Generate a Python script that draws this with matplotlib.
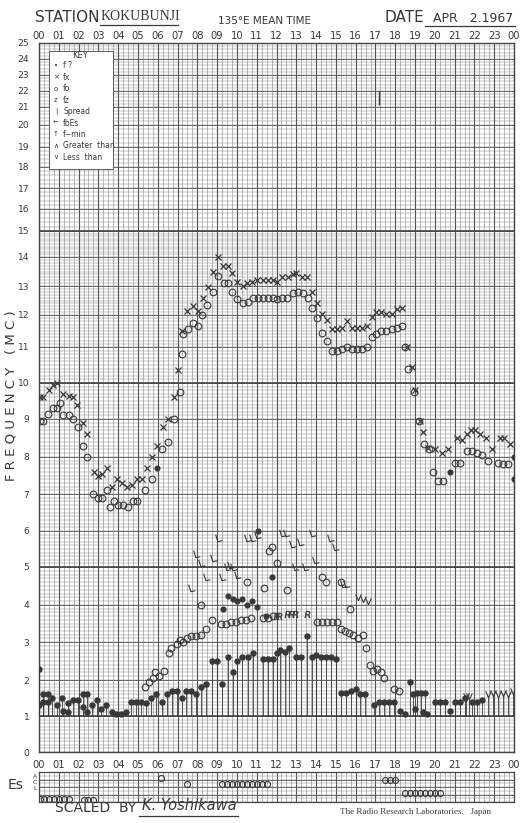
import numpy as np
import matplotlib
matplotlib.use("Agg")
import matplotlib.pyplot as plt
from matplotlib.path import Path
from matplotlib.lines import Line2D
from matplotlib.patches import Rectangle

# ---- F-layer readings (hour, MC) ----
FX_HOURS = [0.05, 0.2, 0.5, 0.7, 0.9, 1.2, 1.5, 1.7, 1.9, 2.2, 2.4, 2.8, 3.0, 3.2, 3.45, 3.7, 3.95,
            4.2, 4.45, 4.7, 4.95, 5.2, 5.45, 5.7, 5.95, 6.25, 6.5, 6.8, 7.0, 7.25, 7.5, 7.8, 8.05,
            8.3, 8.55, 8.8, 9.05, 9.3, 9.55, 9.75, 10.0, 10.3, 10.5, 10.75, 11.0, 11.3, 11.55, 11.8,
            12.05, 12.3, 12.6, 12.85, 13.0, 13.3, 13.55, 13.8, 14.05, 14.3, 14.55, 14.8, 15.05,
            15.3, 15.55, 15.8, 16.05, 16.3, 16.55, 16.8, 17.05, 17.3, 17.55, 17.85, 18.1, 18.35,
            18.6, 18.85, 19.0, 19.25, 19.4, 19.65, 20.0, 20.35, 20.65, 21.1, 21.35, 21.6, 21.85,
            22.05, 22.3, 22.6, 22.9, 23.3, 23.5, 23.8]
FX_MC = [9.6, 9.6, 9.8, 9.95, 10.0, 9.7, 9.65, 9.6, 9.4, 8.9, 8.6, 7.6, 7.5, 7.55, 7.7, 7.2, 7.4,
         7.3, 7.2, 7.25, 7.4, 7.4, 7.7, 8.0, 8.3, 8.8, 9.0, 9.6, 10.35, 11.5, 12.15, 12.3, 12.15,
         12.6, 12.95, 13.5, 14.0, 13.7, 13.7, 13.45, 13.15, 13.0, 13.1, 13.15, 13.2, 13.2, 13.2, 13.2,
         13.15, 13.3, 13.3, 13.4, 13.45, 13.3, 13.3, 12.8, 12.4, 12.05, 11.85, 11.55, 11.55,
         11.6, 11.8, 11.6, 11.6, 11.6, 11.65, 11.95, 12.1, 12.1, 12.05, 12.05, 12.2, 12.25,
         11.0, 10.45, 9.8, 8.95, 8.65, 8.25, 8.2, 8.1, 8.2, 8.5, 8.45, 8.6, 8.7,
         8.7, 8.6, 8.5, 8.2, 8.5, 8.5, 8.35]

FO_HOURS = [0.05, 0.2, 0.45, 0.7, 0.9, 1.05, 1.2, 1.5, 1.7, 1.95, 2.2, 2.45, 2.75, 3.0, 3.2, 3.45,
            3.6, 3.8, 4.0, 4.25, 4.5, 4.75, 4.95, 5.35, 5.7, 6.2, 6.5, 6.8, 7.1, 7.25, 7.3, 7.55,
            7.8, 8.05, 8.25, 8.5, 8.8, 9.05, 9.35, 9.55, 9.75, 10.0, 10.3, 10.55, 10.8, 11.05, 11.3,
            11.55, 11.8, 12.05, 12.3, 12.55, 12.85, 13.1, 13.35, 13.6, 13.8, 14.05, 14.3, 14.55,
            14.8, 15.05, 15.3, 15.55, 15.8, 16.05, 16.3, 16.55, 16.8, 17.05, 17.3, 17.55, 17.85,
            18.1, 18.35, 18.5, 18.65, 18.95, 19.2, 19.45, 19.7, 19.9, 20.15, 20.4, 21.0, 21.25,
            21.65, 21.9, 22.15, 22.4, 22.7, 23.2, 23.45, 23.7]
FO_MC = [8.95, 8.95, 9.15, 9.3, 9.3, 9.45, 9.1, 9.1, 9.0, 8.8, 8.3, 8.0, 7.0, 6.9, 6.9, 7.1,
         6.65, 6.8, 6.7, 6.7, 6.65, 6.8, 6.8, 7.1, 7.4, 8.2, 8.4, 9.0, 9.75, 10.8, 11.4, 11.55,
         11.75, 11.65, 12.0, 12.35, 12.8, 13.35, 13.1, 13.1, 12.8, 12.55, 12.4, 12.45, 12.6, 12.6, 12.6,
         12.6, 12.6, 12.55, 12.6, 12.6, 12.75, 12.8, 12.75, 12.6, 12.25, 11.9, 11.45, 11.2,
         10.9, 10.9, 10.95, 11.0, 10.95, 10.95, 10.95, 11.0, 11.3, 11.4, 11.5, 11.5, 11.55,
         11.6, 11.65, 11.0, 10.4, 9.75, 8.95, 8.35, 8.2, 7.6, 7.35, 7.35, 7.85, 7.85,
         8.15, 8.15, 8.1, 8.05, 7.9, 7.85, 7.8, 7.8]

# ---- F1 / E region ----
F1_O_HOURS = [8.2, 10.5, 11.35, 11.6, 11.75, 12.0, 12.55, 14.3, 14.5, 15.25, 15.7]
F1_O_MC = [4.0, 4.6, 4.45, 5.45, 5.55, 5.1, 4.4, 4.75, 4.6, 4.6, 3.9]

E_O_HOURS = [5.35, 5.55, 5.75, 5.85, 6.05, 6.3, 6.55, 6.65, 6.95, 7.1, 7.3, 7.5, 7.7, 7.95, 8.2,
             8.45, 8.75, 9.2, 9.45, 9.7, 9.95, 10.2, 10.45, 10.7, 11.3, 11.55, 11.8, 14.05, 14.3,
             14.55, 14.8, 15.05, 15.25, 15.45, 15.65, 15.85, 16.1, 16.35, 16.5, 16.7, 16.9, 17.1,
             17.3, 17.45, 17.95, 18.2]
E_O_MC = [1.8, 1.95, 2.05, 2.2, 2.1, 2.25, 2.7, 2.85, 2.95, 3.05, 3.0, 3.1, 3.15, 3.15, 3.2,
          3.35, 3.6, 3.5, 3.5, 3.55, 3.55, 3.6, 3.6, 3.65, 3.65, 3.65, 3.7, 3.55, 3.55,
          3.55, 3.55, 3.55, 3.35, 3.3, 3.25, 3.2, 3.1, 3.2, 2.85, 2.4, 2.25, 2.3,
          2.2, 2.05, 1.75, 1.7]

R_HOURS = [11.95, 12.15, 12.55, 12.75, 12.95, 13.55]
R_MC = [3.7, 3.7, 3.75, 3.75, 3.75, 3.75]

DOT_HOURS = [5.95, 20.75, 24.0, 24.0, 9.3, 9.55, 9.8, 10.0, 10.25, 10.5, 10.75, 11.0, 11.05,
             11.45, 11.75]
DOT_MC = [7.7, 7.6, 8.0, 7.4, 3.9, 4.25, 4.15, 4.1, 4.15, 4.0, 4.1, 3.95, 6.0,
          3.7, 4.75]

L_HOURS = [7.7, 7.95, 8.2, 8.45, 8.8, 9.05, 9.25, 9.5, 9.65, 9.8, 10.0, 10.5, 10.75, 11.0,
           12.3, 12.5, 12.8, 13.2, 13.8, 14.7, 14.95, 12.95, 13.45, 13.95, 15.35, 15.5]
L_MC = [4.45, 5.35, 5.1, 4.75, 5.25, 5.8, 4.75, 5.0, 5.05, 5.0, 4.8, 5.8, 5.8, 5.9,
        5.95, 5.95, 5.65, 5.7, 5.95, 5.8, 5.55, 5.0, 5.0, 5.2, 4.55, 4.55]

V_HOURS = [16.1, 16.35, 16.6, 21.55, 21.75, 22.7, 22.95, 23.2, 23.45, 23.7, 23.95]
V_MC = [4.2, 4.15, 4.1, 1.55, 1.55, 1.6, 1.65, 1.6, 1.65, 1.6, 1.7]

# f-min, drawn with stems down to 1 MC
FMIN_HOURS = [0.0, 0.0, 0.2, 0.2, 0.45, 0.45, 0.65, 0.9, 1.15, 1.2, 1.45, 1.45, 1.7, 1.95, 2.2,
              2.4, 2.2, 2.45, 2.7, 2.95, 3.15, 3.4, 3.7, 3.9, 4.15, 4.4, 4.65, 4.9, 5.15, 5.4,
              5.65, 5.9, 6.2, 6.45, 6.7, 6.95, 7.2, 7.45, 7.7, 7.95, 8.2, 8.45, 8.75, 9.0, 9.25,
              9.55, 9.8, 10.0, 10.25, 10.55, 10.8, 11.3, 11.55, 11.8, 12.05, 12.2, 12.45, 12.65,
              13.0, 13.25, 13.55, 13.8, 14.0, 14.25, 14.5, 14.75, 15.0, 15.25, 15.5, 15.75, 16.0,
              16.2, 16.45, 16.95, 17.2, 17.45, 17.7, 17.95, 18.25, 18.5, 18.75, 18.9, 19.0, 19.1,
              19.3, 19.4, 19.5, 19.6, 20.0, 20.25, 20.5, 20.75, 21.0, 21.25, 21.5, 21.9, 22.15,
              22.4]
FMIN_MC = [2.3, 1.3, 1.6, 1.4, 1.6, 1.4, 1.5, 1.3, 1.5, 1.15, 1.1, 1.35, 1.45, 1.45, 1.6,
           1.6, 1.25, 1.1, 1.3, 1.45, 1.2, 1.3, 1.1, 1.05, 1.05, 1.1, 1.4, 1.4, 1.4, 1.35,
           1.5, 1.6, 1.4, 1.6, 1.7, 1.7, 1.5, 1.7, 1.7, 1.6, 1.8, 1.9, 2.5, 2.5, 1.9,
           2.6, 2.2, 2.5, 2.6, 2.6, 2.7, 2.55, 2.55, 2.55, 2.7, 2.8, 2.75, 2.85,
           2.6, 2.6, 3.15, 2.6, 2.65, 2.6, 2.6, 2.6, 2.55, 1.65, 1.65, 1.7, 1.75,
           1.6, 1.6, 1.3, 1.4, 1.4, 1.4, 1.4, 1.15, 1.05, 1.95, 1.6, 1.2, 1.65,
           1.65, 1.1, 1.65, 1.05, 1.4, 1.4, 1.4, 1.15, 1.4, 1.4, 1.5, 1.4, 1.4,
           1.45]

SPREAD_HOUR = 17.2
SPREAD_MC = (21.1, 22.0)

# ---- Es (row: 3 = A, 2 = C, 1 = L, 0 = bottom) ----
ES_HOURS = [0.05, 0.25, 0.5, 0.75, 1.0, 1.25, 1.5, 2.25, 2.5, 2.75, 6.15, 7.5,
            9.25, 9.5, 9.75, 10.0, 10.25, 10.5, 10.75, 11.0, 11.25, 11.5,
            17.5, 17.75, 18.0, 18.5, 18.75, 19.0, 19.25, 19.5, 19.75, 20.0, 20.25]
ES_ROW = [0.35, 0.35, 0.35, 0.35, 0.35, 0.35, 0.35, 0.3, 0.3, 0.3, 3.2, 2.4,
          2.4, 2.4, 2.4, 2.4, 2.4, 2.4, 2.4, 2.4, 2.4, 2.4,
          3.0, 3.0, 3.0, 1.2, 1.2, 1.2, 1.2, 1.2, 1.2, 1.2, 1.2]

HOUR_LABELS = [f"{h:02d}" for h in range(24)] + ["00"]

KEY_ROWS = [("•", "f ?"), ("×", "fx"), ("o", "fo"), ("z", "fz"), ("|", "Spread"),
            ("←", "fbEs"), ("↑", "f−min"), ("∧", "Greater  than"), ("∨", "Less  than")]

# frequency scale of the printed sheet (MC -> height on the sheet)
SCALE_MC = np.arange(26)
SCALE_PX = np.array([752, 716, 680, 642, 605, 567, 531, 494, 457, 419, 383, 347, 315,
                     286, 257, 231, 209, 188, 167, 147, 125, 107, 91, 75, 59, 43])
SCALE_H = 752.0 - SCALE_PX

W, H = 521, 823
INK = "#383838"
GRID = "#858585"
SANS = ["Liberation Sans Narrow", "DejaVu Sans"]


def fwd(f):
    return np.interp(f, SCALE_MC, SCALE_H)


def inv(v):
    return np.interp(v, SCALE_H, SCALE_MC)


def box(x0, y0, x1, y1):
    return [x0 / W, 1 - y1 / H, (x1 - x0) / W, (y1 - y0) / H]


def ftext(x, y, s, **kw):
    kw.setdefault("color", INK)
    kw.setdefault("va", "center")
    fig.text(x / W, 1 - y / H, s, **kw)


def fline(x0, x1, y, lw=0.9):
    fig.add_artist(Line2D([x0 / W, x1 / W], [1 - y / H, 1 - y / H], color=INK, lw=lw))


fig = plt.figure(figsize=(W / 100, H / 100), dpi=100)
fig.patch.set_facecolor("white")

ax = fig.add_axes(box(39, 43, 514, 752))
ax.set_yscale("function", functions=(fwd, inv))
ax.set_xlim(0, 24)
ax.set_ylim(0, 25)

# graph-paper grid
minor_y = np.concatenate([np.arange(0, 15, 0.1), np.arange(15, 25.01, 0.2)])
ax.hlines(minor_y, 0, 24, color=GRID, lw=0.35, zorder=0)
ax.vlines(np.arange(0, 24.01, 0.25), 0, 25, color=GRID, lw=0.4, zorder=0)
ax.hlines(np.arange(26), 0, 24, color="#606060", lw=0.65, zorder=0)
ax.vlines(np.arange(25), 0, 25, color="#555555", lw=0.8, zorder=0)
ax.hlines([1, 5, 10, 15], 0, 24, color="#454545", lw=1.2, zorder=0)
for s in ax.spines.values():
    s.set_color("#454545")
    s.set_linewidth(1.0)

# hour labels below and above the graph
ax.set_xticks(range(25))
ax.set_xticklabels(HOUR_LABELS)
ax.tick_params(axis="x", length=0, labelsize=7.2, colors=INK, pad=6)
top = ax.secondary_xaxis("top")
top.set_xticks(range(25))
top.set_xticklabels(HOUR_LABELS)
top.tick_params(axis="x", length=0, labelsize=7.2, colors=INK, pad=1.5)
top.spines["top"].set_visible(False)

ax.set_yticks(range(26))
ax.set_yticklabels([str(i) for i in range(26)])
ax.tick_params(axis="y", length=0, right=True, labelright=True, labelsize=6.6, colors=INK, pad=7)
for t in ax.get_xticklabels() + ax.get_yticklabels() + top.get_xticklabels():
    t.set_family(SANS)

# key box
ax.add_patch(Rectangle((0.5, 17.9), 3.25, 6.6, facecolor="white", edgecolor="#4a4a4a",
                       lw=0.6, zorder=3))

mk = dict(ls="none", color=INK, mec=INK, zorder=4)
L_MARK = Path([(-0.45, 0.6), (-0.1, -0.5), (0.6, -0.35)], [Path.MOVETO, Path.LINETO, Path.LINETO])
V_MARK = Path([(-0.45, 0.5), (0.0, -0.5), (0.45, 0.5)], [Path.MOVETO, Path.LINETO, Path.LINETO])

ax.plot(FX_HOURS, FX_MC, marker="x", ms=4.5, mew=0.9, **mk)
ax.plot(FO_HOURS, FO_MC, marker="o", ms=4.8, mfc="none", mew=0.8, **mk)
ax.plot(F1_O_HOURS, F1_O_MC, marker="o", ms=4.8, mfc="none", mew=0.8, **mk)
ax.plot(E_O_HOURS, E_O_MC, marker="o", ms=4.8, mfc="none", mew=0.8, **mk)
ax.plot(R_HOURS, R_MC, marker="$R$", ms=5, mew=0.3, **mk)
ax.plot(L_HOURS, L_MC, marker=L_MARK, ms=5.5, mfc="none", mew=0.8, **mk)
ax.plot(V_HOURS, V_MC, marker=V_MARK, ms=4.5, mfc="none", mew=0.8, **mk)
ax.plot(DOT_HOURS, DOT_MC, marker="o", ms=3.4, **mk)

fmin_h = np.array(FMIN_HOURS)
fmin_f = np.array(FMIN_MC)
stem = fmin_f > 1.0
ax.vlines(fmin_h[stem], 1.0, fmin_f[stem], color=INK, lw=0.6, zorder=3)
vh = np.array(V_HOURS)
vf = np.array(V_MC)
ax.vlines(vh[vf < 2], 1.0, vf[vf < 2] - 0.05, color=INK, lw=0.6, zorder=3)
ax.plot(fmin_h, fmin_f, marker="o", ms=3.6, **mk)
ax.vlines(SPREAD_HOUR, *SPREAD_MC, color=INK, lw=1.0, zorder=4)

# Es strip
es = fig.add_axes(box(39, 772, 514, 802))
es.set_xlim(0, 24)
es.set_ylim(0, 4)
es.vlines(np.arange(0, 24.01, 0.25), 0, 4, color=GRID, lw=0.4, zorder=0)
es.vlines(np.arange(25), 0, 4, color="#555555", lw=0.8, zorder=0)
es.hlines(np.arange(0, 4.01, 0.5), 0, 24, color=GRID, lw=0.35, zorder=0)
es.hlines(np.arange(5), 0, 24, color="#606060", lw=0.65, zorder=0)
es.set_xticks([])
es.set_yticks([])
for s in es.spines.values():
    s.set_color("#454545")
    s.set_linewidth(0.9)
es.plot(ES_HOURS, ES_ROW, ls="none", marker="o", ms=4.3, mfc="none", mec=INK, mew=0.8)

# texts
ftext(35, 18, "STATION", family=SANS, fontsize=11)
ftext(101, 17, "KOKUBUNJI", family="Liberation Serif", fontsize=10)
fline(100, 178, 25)
ftext(265, 21, "135°E MEAN TIME", family=SANS, fontsize=7.5, ha="center")
ftext(385, 18, "DATE", family=SANS, fontsize=11)
ftext(433, 18, "APR   2.1967", family=SANS, fontsize=9)
fline(425, 515, 26)

ftext(11, 396, "F R E Q U E N C Y   ( M C )", family=SANS, fontsize=9.5, rotation=90,
      ha="center")
ftext(16, 785, "Es", family=SANS, fontsize=10, ha="center")
for y, s in [(776, "A"), (783, "C"), (789, "L")]:
    ftext(35, y, s, family=SANS, fontsize=4.5, ha="center")

ftext(55, 808, "SCALED  BY", family=SANS, fontsize=10)
ftext(142, 805, "K. Yoshikawa", family="DejaVu Sans", style="italic", fontsize=10.5)
fline(139, 238, 816)
ftext(340, 812, "The Radio Research Laboratories.   Japan", family="Liberation Serif",
      fontsize=6.5)

# key entries
ftext(80, 56, "KEY", family=SANS, fontsize=6, ha="center")
for i, (sym, lab) in enumerate(KEY_ROWS):
    y = 66 + i * 11.4
    ftext(56, y, sym, family="DejaVu Sans", fontsize=5, ha="center")
    ftext(63, y, lab, family=SANS, fontsize=5.5)

fig.savefig("out.png", dpi=100)
